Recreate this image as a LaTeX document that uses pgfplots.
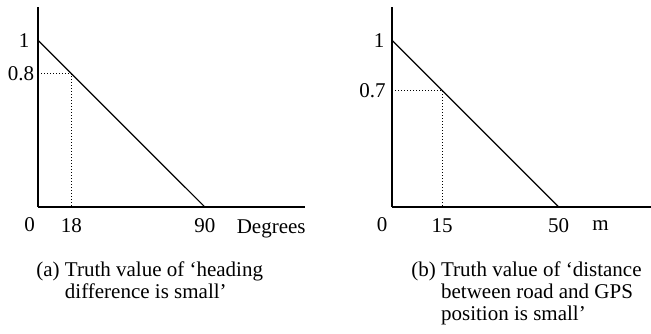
\documentclass[border=0pt]{standalone}
\usepackage{pgfplots}
\pgfplotsset{compat=1.18}
\usepackage{fontspec}
\setmainfont{Liberation Serif}
\begin{document}
\fontsize{10.5}{11}\selectfont
\begin{tikzpicture}
  \pgfplotsset{
    panel/.style={
      scale only axis, height=100pt,
      axis x line=bottom, axis y line=left,
      axis line style={-, line width=0.6pt},
      xmin=0, ymin=0, ymax=1.2,
      major tick length=0pt,
      /pgf/number format/assume math mode=true,
      tick label style={font=\fontsize{10.5}{11}\selectfont},
      xticklabel style={anchor=base, inner sep=0pt, yshift=-12.5pt},
      yticklabels={},
      clip=false,
    },
  }
  \tikzset{lab/.style={inner sep=0pt, font=\fontsize{10.5}{11}\selectfont}}
  \useasboundingbox (0,0) rectangle (325.5pt,166.5pt);
  % (a)
  \begin{axis}[panel, at={(19pt,63pt)}, anchor=origin,
      width=133.5pt, xmax=144,
      xtick={18,90}, ytick={0.8,1}]
    \addplot[line width=0.6pt] coordinates {(0,1)(90,0)};
    \addplot[densely dotted, line width=0.5pt] coordinates {(0,0.8)(18,0.8)(18,0)};
    \node[lab] at (axis cs:0,1) [xshift=-7pt] {1};
    \node[lab] at (axis cs:0,0.8) [xshift=-8.5pt] {0.8};
    \node[lab, anchor=base] at (axis cs:0,0) [yshift=-12.25pt, xshift=-4.25pt] {0};
    \node[lab, anchor=base west] at (axis cs:107,0) [yshift=-13pt] {Degrees};
  \end{axis}
  % (b)
  \begin{axis}[panel, at={(196pt,63pt)}, anchor=origin,
      width=129.5pt, xmax=77.7,
      xtick={15,50}, ytick={0.7,1}]
    \addplot[line width=0.6pt] coordinates {(0,1)(50,0)};
    \addplot[densely dotted, line width=0.5pt] coordinates {(0,0.7)(15,0.7)(15,0)};
    \node[lab] at (axis cs:0,1) [xshift=-6.5pt] {1};
    \node[lab] at (axis cs:0,0.7) [xshift=-9.75pt] {0.7};
    \node[lab, anchor=base] at (axis cs:0,0) [yshift=-12.25pt, xshift=-5pt] {0};
    \node[lab, anchor=base west] at (axis cs:60,0) [yshift=-11.5pt] {m};
  \end{axis}
  \node[anchor=base west, align=left, inner sep=0pt] at (18pt,17.5pt)
    {(a) Truth value of `heading\\\hphantom{(a) }difference is small'};
  \node[anchor=base west, align=left, inner sep=0pt] at (205.5pt,6.5pt)
    {(b) Truth value of `distance\\\hphantom{(b) }between road and GPS\\\hphantom{(b) }position is small'};
\end{tikzpicture}
\end{document}
